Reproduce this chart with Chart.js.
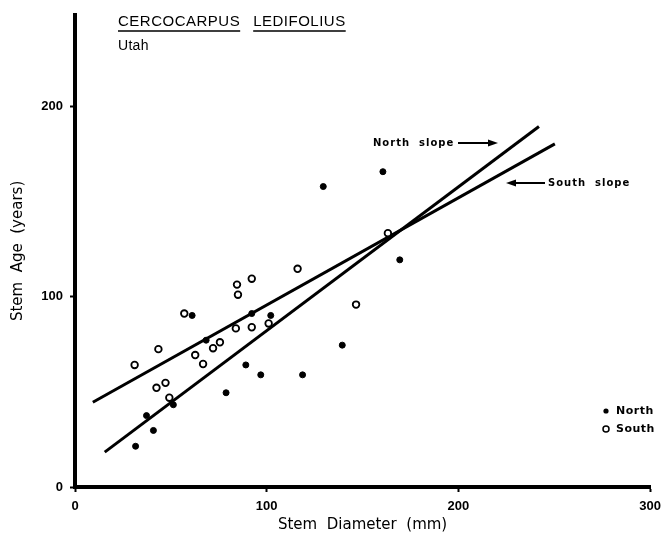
<!DOCTYPE html>
<html><head><meta charset="utf-8">
<script src="https://cdn.jsdelivr.net/npm/chart.js@4.4.1/dist/chart.umd.min.js"></script>
<style>html,body{margin:0;padding:0;background:#fff;}#wrap{width:668px;height:545px;position:relative;}</style>
</head><body><div id="wrap"><canvas id="c" width="668" height="545"></canvas></div>
<script>
// Tick values
const xTicks = [0, 100, 200, 300];
const yTicks = [0, 100, 200];
// North slope (filled dots): diameter (mm), age (years)
const northX = [129.5, 160.6, 169.4, 61.1, 92.2, 102.1, 68.4, 89.1, 96.9, 118.7, 78.8, 51.3, 37.3, 40.9, 31.6, 139.4];
const northY = [157.8, 165.6, 119.3, 90.1, 91.1, 90.1, 77.1, 64.1, 58.9, 58.9, 49.5, 43.2, 37.5, 29.7, 21.4, 74.5];
// South slope (open circles)
const southX = [163.2, 116.1, 92.2, 84.5, 85.0, 57.0, 83.9, 92.2, 101.0, 43.5, 72.0, 75.6, 62.7, 66.8, 31.1, 47.2, 42.5, 49.2, 146.6];
const southY = [133.3, 114.6, 109.4, 106.3, 101.0, 91.1, 83.3, 83.9, 85.9, 72.4, 72.9, 76.0, 69.3, 64.6, 64.1, 54.7, 52.1, 46.9, 95.8];
// Regression lines (end points)
const northLineX = [15.5, 242];
const northLineY = [18.3, 189.3];
const southLineX = [9.3, 250.3];
const southLineY = [44.5, 180.2];

const pts = (xs, ys) => xs.map((x, i) => ({x: x, y: ys[i]}));
const FONT = "'Liberation Sans', Arial, sans-serif";
const FONT2 = "'DejaVu Sans', sans-serif";

const annot = {
  id: 'annot',
  afterDraw(chart) {
    const ctx = chart.ctx;
    ctx.save();
    ctx.fillStyle = '#000'; ctx.strokeStyle = '#000';
    ctx.textBaseline = 'middle'; ctx.textAlign = 'left';
    // Title
    ctx.font = '15px ' + FONT;
    ctx.letterSpacing = '0.5px';
    const w1 = 'CERCOCARPUS', w2 = 'LEDIFOLIUS';
    const tx = 118, ty = 22;
    ctx.fillText(w1, tx, ty);
    const m1 = ctx.measureText(w1).width;
    const tx2 = tx + m1 + 13;
    ctx.fillText(w2, tx2, ty);
    const m2 = ctx.measureText(w2).width;
    ctx.lineWidth = 1.5;
    ctx.beginPath();
    ctx.moveTo(tx, ty + 9); ctx.lineTo(tx + m1, ty + 9);
    ctx.moveTo(tx2, ty + 9); ctx.lineTo(tx2 + m2, ty + 9);
    ctx.stroke();
    ctx.font = '14px ' + FONT;
    ctx.letterSpacing = '0.3px';
    ctx.fillText('Utah', tx, 46);
    // Slope labels
    ctx.font = 'bold 10px ' + FONT2;
    ctx.letterSpacing = '1px';
    ctx.fillText('North  slope', 373, 143);
    ctx.fillText('South  slope', 548, 183);
    ctx.letterSpacing = '0px';
    ctx.lineWidth = 2;
    ctx.beginPath(); ctx.moveTo(458, 143); ctx.lineTo(490, 143); ctx.stroke();
    ctx.beginPath(); ctx.moveTo(498, 143); ctx.lineTo(488, 139.5); ctx.lineTo(488, 146.5); ctx.closePath(); ctx.fill();
    ctx.beginPath(); ctx.moveTo(514, 183); ctx.lineTo(545, 183); ctx.stroke();
    ctx.beginPath(); ctx.moveTo(506, 183); ctx.lineTo(516, 179.5); ctx.lineTo(516, 186.5); ctx.closePath(); ctx.fill();
    // Legend
    ctx.beginPath(); ctx.arc(606, 411, 2.6, 0, Math.PI * 2); ctx.fill();
    ctx.lineWidth = 1.5;
    ctx.beginPath(); ctx.arc(606, 429, 3, 0, Math.PI * 2); ctx.stroke();
    ctx.font = 'bold 11px ' + FONT2;
    ctx.letterSpacing = '0.5px';
    ctx.fillText('North', 616, 411);
    ctx.fillText('South', 616, 429);
    ctx.restore();
  }
};

new Chart(document.getElementById('c'), {
  type: 'scatter',
  data: {
    datasets: [
      {label: 'North', data: pts(northX, northY), backgroundColor: '#000', borderColor: '#000', borderWidth: 1, pointRadius: 3, showLine: false},
      {label: 'South', data: pts(southX, southY), backgroundColor: '#fff', borderColor: '#000', borderWidth: 1.8, pointRadius: 3.3, showLine: false},
      {label: 'North slope', data: pts(northLineX, northLineY), showLine: true, borderColor: '#000', borderWidth: 3, pointRadius: 0, fill: false},
      {label: 'South slope', data: pts(southLineX, southLineY), showLine: true, borderColor: '#000', borderWidth: 3, pointRadius: 0, fill: false}
    ]
  },
  options: {
    responsive: false, animation: false, devicePixelRatio: 1,
    layout: {padding: {left: 0, right: 14, top: 11, bottom: 0}},
    plugins: {legend: {display: false}, tooltip: {enabled: false}},
    scales: {
      x: {
        type: 'linear', min: 0, max: 300,
        afterFit: s => { s.height = 58; },
        afterBuildTicks: s => { s.ticks = xTicks.map(v => ({value: v})); },
        border: {display: true, color: '#000', width: 4},
        grid: {drawOnChartArea: false, drawTicks: true, tickLength: 5, tickWidth: 2, tickColor: '#000'},
        ticks: {color: '#000', font: {family: FONT, size: 13, weight: 'bold'}, padding: 7, maxRotation: 0},
        title: {display: true, text: 'Stem  Diameter  (mm)', color: '#000', font: {family: FONT2, size: 15}, padding: {top: 0, bottom: 11}}
      },
      y: {
        type: 'linear', min: 0, max: 248,
        afterFit: s => { s.width = 75; },
        afterBuildTicks: s => { s.ticks = yTicks.map(v => ({value: v})); },
        border: {display: true, color: '#000', width: 4},
        grid: {drawOnChartArea: false, drawTicks: true, tickLength: 5, tickWidth: 2, tickColor: '#000'},
        ticks: {color: '#000', font: {family: FONT, size: 13, weight: 'bold'}, padding: 7},
        title: {display: true, text: 'Stem  Age  (years)', color: '#000', font: {family: FONT2, size: 15}, padding: {top: 9, bottom: 0}}
      }
    }
  },
  plugins: [annot]
});
</script></body></html>
